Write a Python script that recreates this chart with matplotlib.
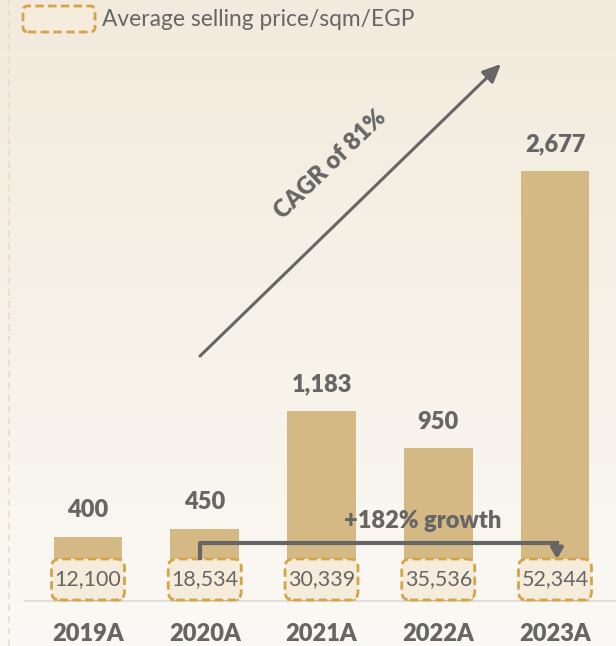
import matplotlib.pyplot as plt
import numpy as np
from matplotlib.patches import FancyBboxPatch
from matplotlib.colors import LinearSegmentedColormap

years = ['2019A', '2020A', '2021A', '2022A', '2023A']
sales = [400, 450, 1183, 950, 2677]
price_sqm = ['12,100', '18,534', '30,339', '35,536', '52,344']
legend_label = 'Average selling price/sqm/EGP'
cagr_label = 'CAGR of 81%'
growth_label = '+182% growth'

plt.rcParams['font.family'] = ['Lato', 'DejaVu Sans']

W, H = 616, 646
fig = plt.figure(figsize=(W / 100, H / 100), dpi=100)

# gradient background
bg = fig.add_axes([0, 0, 1, 1], zorder=0)
cmap = LinearSegmentedColormap.from_list('bg', ['#F2EADC', '#FBF9F5'])
bg.imshow(np.linspace(0, 1, 256).reshape(-1, 1), aspect='auto', cmap=cmap,
          extent=[0, 1, 0, 1])
bg.plot([9 / W, 9 / W], [0, 1], color='#EEDCC2', lw=1.2, ls=(0, (4, 3)))
bg.set_xlim(0, 1)
bg.set_ylim(0, 1)
bg.axis('off')

# main axes: full figure, scaled so bars land at the reference pixels
px_x = 116.75          # px per category
px_y = 0.1606          # px per unit
x0, base = 88, 601     # px of first bar centre, baseline from top
ax = fig.add_axes([0, 0, 1, 1], zorder=1)
ax.patch.set_alpha(0)
ax.set_xlim(-x0 / px_x, (W - x0) / px_x)
ax.set_ylim(-(H - base) / px_y, base / px_y)
ax.axis('off')

x = np.arange(len(years))
ax.bar(x, sales, width=0.59, color='#D4B985', zorder=2)
ax.plot([(25 - x0) / px_x, (W - x0) / px_x], [0, 0], color='#E2DFDB', lw=1.5, zorder=1)

gray = '#666666'
bold = 'heavy'
for i, v in enumerate(sales):
    ax.annotate(f'{v:,}', (i, v), xytext=(0, 19), textcoords='offset points',
                ha='center', va='center', fontsize=17, fontweight=bold, color=gray)
    ax.annotate(years[i], (i, 0), xytext=(0, -24), textcoords='offset points',
                ha='center', va='center', fontsize=17, fontweight=bold, color=gray)

# dashed price boxes
bw, bh = 73 / px_x, 41 / px_y
by = 1 / px_y
asp = (1 / px_y) / (1 / px_x)
for i, p in enumerate(price_sqm):
    box = FancyBboxPatch((i - bw / 2, by), bw, bh,
                         boxstyle='round,pad=0,rounding_size=0.07',
                         mutation_aspect=asp, fc='#F6ECDB', ec='#D4A548',
                         lw=2, ls=(0, (3, 1.6)), zorder=3)
    ax.add_patch(box)
    ax.text(i, by + bh / 2, p, ha='center', va='center', fontsize=15.5,
            color=gray, zorder=4)

# CAGR arrow
ax.annotate('', xy=((503 - x0) / px_x, (base - 62) / px_y),
            xytext=((198 - x0) / px_x, (base - 358) / px_y),
            arrowprops=dict(arrowstyle='-|>,head_length=1.1,head_width=0.5',
                            color=gray, lw=2.2), zorder=5)
ax.text((330 - x0) / px_x, (base - 165) / px_y, cagr_label, rotation=44,
        ha='center', va='center', fontsize=17, fontweight=bold, color=gray,
        rotation_mode='anchor')

# growth bracket
xs = [(200 - x0) / px_x, (200 - x0) / px_x, (557 - x0) / px_x, (557 - x0) / px_x]
ys = [(base - 558) / px_y, (base - 543) / px_y, (base - 543) / px_y, (base - 552) / px_y]
ax.plot(xs[:3], ys[:3], color=gray, lw=3, solid_joinstyle='round', zorder=5)
ax.annotate('', xy=(xs[3], (base - 559) / px_y), xytext=(xs[2], ys[2]),
            arrowprops=dict(arrowstyle='-|>,head_length=0.6,head_width=0.35',
                            color=gray, lw=3, shrinkA=0, shrinkB=0), zorder=5)
ax.text((423 - x0) / px_x, (base - 521) / px_y, growth_label, ha='center',
        va='center', fontsize=17, fontweight=bold, color=gray, zorder=5)

# legend
leg = FancyBboxPatch((23 / W, 1 - 32 / H), 72 / W, 26 / H,
                     boxstyle='round,pad=0,rounding_size=0.008',
                     mutation_aspect=W / H, transform=fig.transFigure,
                     fc='#F6ECDB', ec='#D4A548', lw=2, ls=(0, (3, 1.6)), zorder=3)
fig.add_artist(leg)
fig.text(102 / W, 1 - 19 / H, legend_label, ha='left', va='center',
         fontsize=16.4, color=gray)

fig.savefig('out.png', dpi=100)
